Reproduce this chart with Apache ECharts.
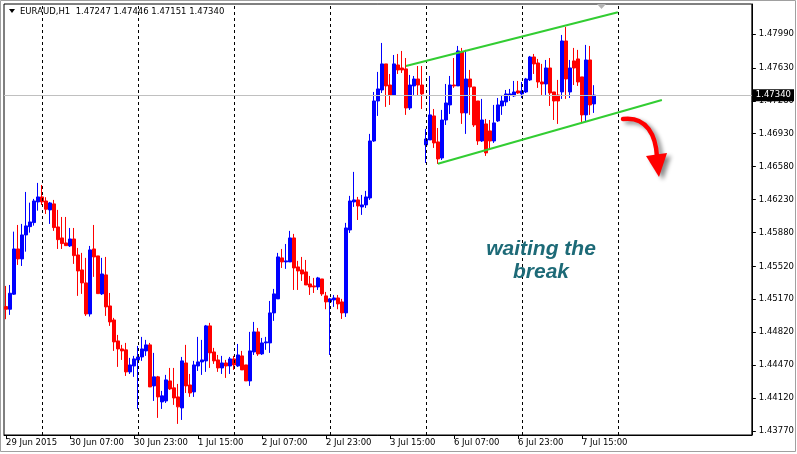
<!DOCTYPE html>
<html><head><meta charset="utf-8">
<script src="https://cdn.jsdelivr.net/npm/echarts@6/dist/echarts.min.js"></script>
<style>html,body{margin:0;padding:0;background:#fff;}#c{width:797px;height:454px;}</style>
</head><body><div id="c"></div>
<script>
// ---- data (EURAUD H1) ----
const opens = [1.45092,1.45064,1.45224,1.45705,1.45599,1.45854,1.45942,1.45985,1.46205,1.46258,
1.46215,1.46120,1.46184,1.45939,1.45822,1.45769,1.45737,1.45811,1.45641,1.45482,
1.45344,1.45014,1.45705,1.45631,1.45227,1.45429,1.45099,1.44950,1.44727,1.44642,
1.44632,1.44398,1.44461,1.44525,1.44557,1.44621,1.44685,1.44249,1.44345,1.44079,
1.44089,1.44302,1.44228,1.44132,1.44015,1.44493,1.44259,1.44185,1.44461,1.44504,
1.44515,1.44887,1.44610,1.44525,1.44440,1.44493,1.44461,1.44536,1.44461,1.44568,
1.44472,1.44302,1.44610,1.44823,1.44589,1.44706,1.44706,1.45025,1.45174,1.45610,
1.45567,1.45567,1.45822,1.45514,1.45482,1.45461,1.45333,1.45312,1.45301,1.45386,
1.45206,1.45142,1.45163,1.45184,1.45142,1.45025,1.45907,1.46205,1.46226,1.46152,
1.46173,1.46247,1.46853,1.47278,1.47395,1.47672,1.47448,1.47342,1.47661,1.47629,
1.47619,1.47204,1.47438,1.47512,1.47448,1.46811,1.46864,1.47119,1.46843,1.46672,
1.47076,1.47236,1.47448,1.47438,1.47799,1.47151,1.47512,1.47427,1.47278,1.46853,
1.47034,1.46960,1.46853,1.47066,1.47225,1.47268,1.47342,1.47332,1.47385,1.47353,
1.47374,1.47502,1.47746,1.47682,1.47480,1.47459,1.47629,1.47374,1.47342,1.47374,
1.47916,1.47374,1.47704,1.47725,1.47534,1.47130,1.47714,1.47247];
const highs = [1.45312,1.45322,1.45889,1.45960,1.45971,1.46311,1.46197,1.46237,1.46407,1.46385,
1.46255,1.46205,1.46226,1.46120,1.46045,1.46045,1.45928,1.45928,1.45716,1.45663,
1.45610,1.45737,1.45960,1.45631,1.45610,1.45620,1.45237,1.44972,1.44791,1.44685,
1.44706,1.44547,1.44568,1.44674,1.44770,1.44738,1.44706,1.44600,1.44355,1.44196,
1.44366,1.44440,1.44440,1.44270,1.44557,1.44685,1.44376,1.44515,1.44770,1.44738,
1.44897,1.44919,1.44653,1.44578,1.44568,1.44525,1.44557,1.44568,1.44695,1.44621,
1.44472,1.44823,1.44929,1.44865,1.44759,1.44770,1.45152,1.45280,1.45663,1.45705,
1.45758,1.45897,1.45865,1.45578,1.45620,1.45588,1.45418,1.45397,1.45408,1.45386,
1.45248,1.45184,1.45216,1.45216,1.45174,1.45982,1.46269,1.46524,1.46258,1.46279,
1.46322,1.46928,1.47374,1.47587,1.47895,1.47672,1.47565,1.47767,1.47778,1.47810,
1.47735,1.47555,1.47544,1.47650,1.47650,1.46981,1.47544,1.47193,1.46991,1.47183,
1.47459,1.47544,1.47735,1.47863,1.47842,1.47821,1.47608,1.47427,1.47278,1.47300,
1.47087,1.47076,1.47236,1.47310,1.47342,1.47395,1.47406,1.47491,1.47491,1.47480,
1.47523,1.47757,1.47778,1.47725,1.47672,1.47714,1.47735,1.47374,1.47502,1.47980,
1.48065,1.47714,1.47842,1.47821,1.47534,1.47874,1.47863,1.47446];
const lows = [1.44958,1.45004,1.45216,1.45535,1.45524,1.45676,1.45878,1.45953,1.46112,1.46173,
1.46077,1.45971,1.45897,1.45705,1.45705,1.45737,1.45726,1.45546,1.45206,1.45227,
1.44993,1.44986,1.45408,1.45227,1.45216,1.44993,1.44887,1.44621,1.44451,1.44525,
1.44355,1.44376,1.44345,1.44004,1.44515,1.44568,1.44238,1.44089,1.43909,1.44004,
1.44068,1.44206,1.44047,1.43845,1.43887,1.44174,1.44132,1.44132,1.44408,1.44366,
1.44398,1.44440,1.44483,1.44398,1.44376,1.44334,1.44376,1.44419,1.44451,1.44419,
1.44302,1.44249,1.44578,1.44568,1.44578,1.44632,1.44600,1.44940,1.45174,1.45503,
1.45493,1.45567,1.45269,1.45269,1.45365,1.45322,1.45216,1.45237,1.45269,1.45206,
1.45064,1.44578,1.45089,1.45064,1.44961,1.44982,1.45875,1.46152,1.46013,1.46067,
1.46141,1.46226,1.46843,1.47119,1.47363,1.47215,1.47236,1.47342,1.47565,1.47576,
1.47130,1.47183,1.47342,1.47332,1.47193,1.46619,1.46864,1.46779,1.46609,1.46651,
1.47023,1.47140,1.47417,1.47438,1.47034,1.46928,1.47130,1.47002,1.46811,1.46843,
1.46694,1.46758,1.46832,1.47055,1.47130,1.47225,1.47278,1.47321,1.47353,1.47310,
1.47363,1.47491,1.47565,1.47417,1.47342,1.47342,1.47225,1.47076,1.47034,1.47300,
1.47300,1.47310,1.47448,1.47438,1.47055,1.47055,1.47130,1.47151];
const closes = [1.45064,1.45234,1.45705,1.45599,1.45854,1.45950,1.45992,1.46215,1.46258,1.46205,
1.46127,1.46194,1.45932,1.45804,1.45762,1.45740,1.45811,1.45634,1.45471,1.45344,
1.45014,1.45695,1.45620,1.45230,1.45439,1.45089,1.44929,1.44717,1.44642,1.44621,
1.44398,1.44472,1.44536,1.44557,1.44642,1.44685,1.44238,1.44345,1.44132,1.44143,
1.44313,1.44217,1.44121,1.44026,1.44515,1.44249,1.44174,1.44472,1.44504,1.44525,
1.44887,1.44600,1.44515,1.44440,1.44493,1.44461,1.44536,1.44472,1.44578,1.44419,
1.44302,1.44621,1.44823,1.44589,1.44706,1.44717,1.45025,1.45227,1.45620,1.45567,
1.45578,1.45822,1.45503,1.45471,1.45439,1.45322,1.45301,1.45301,1.45397,1.45227,
1.45142,1.45174,1.45184,1.45121,1.45025,1.45928,1.46215,1.46226,1.46162,1.46173,
1.46258,1.46853,1.47278,1.47406,1.47672,1.47438,1.47342,1.47672,1.47608,1.47608,
1.47204,1.47448,1.47512,1.47448,1.47353,1.46874,1.47130,1.46832,1.46662,1.47076,
1.47257,1.47448,1.47438,1.47810,1.47151,1.47512,1.47427,1.47023,1.46853,1.47076,
1.46726,1.46853,1.47045,1.47236,1.47278,1.47353,1.47353,1.47374,1.47363,1.47385,
1.47512,1.47746,1.47672,1.47480,1.47459,1.47629,1.47363,1.47278,1.47278,1.47916,
1.47512,1.47629,1.47629,1.47480,1.47130,1.47714,1.47236,1.47340];

const tickIndex = [0,16,32,48,64,80,96,112,128,144];
const tickText = ['29 Jun 2015','30 Jun 07:00','30 Jun 23:00','1 Jul 15:00','2 Jul 07:00','2 Jul 23:00','3 Jul 15:00','6 Jul 07:00','6 Jul 23:00','7 Jul 15:00'];
const separatorIndex = [9,33,57,81,105,129,153];
const yTicks = [1.4377,1.4412,1.4447,1.4482,1.4517,1.4552,1.4588,1.4623,1.4658,1.4693,1.4728,1.4763,1.4799];
const lastPrice = 1.47340;
const upperChannel = [[100,1.47650],[153,1.48221]];
const lowerChannel = [[108,1.46611],[164,1.47289]];
const totalSlots = 187;

// hourly time slots (weekend skipped)
const categories = [];
(function(){
  let t = Date.UTC(2015,5,29,15,0);
  while (categories.length < totalSlots) {
    const d = new Date(t);
    const wd = d.getUTCDay();
    if (wd !== 0 && wd !== 6) {
      categories.push(d.toISOString().slice(0,16).replace('T',' '));
    }
    t += 3600000;
  }
})();

const candles = opens.map((o,i)=>[o, closes[i], lows[i], highs[i]]);

const font = 'DejaVu Sans';
const chart = echarts.init(document.getElementById('c'), null, {renderer:'canvas'});
const greenLine = {color:'#32cd32', width:2, type:'solid'};
const sepData = separatorIndex.map(i=>({xAxis: categories[i], lineStyle:{color:'#000', type:[3,3], width:1}, label:{show:false}}));

chart.setOption({
  animation:false,
  backgroundColor:'#ffffff',
  grid:{left:4, right:45, top:4, bottom:19, show:true, borderColor:'#000', borderWidth:1, backgroundColor:'#fff'},
  xAxis:{
    type:'category', data:categories, boundaryGap:true,
    axisLine:{show:true, lineStyle:{color:'#000'}},
    axisTick:{show:true, alignWithLabel:true, length:4, lineStyle:{color:'#000'},
      interval:(idx)=>tickIndex.indexOf(idx)>=0},
    axisLabel:{show:true, align:'left', margin:3, color:'#000', fontFamily:font, fontSize:8.5,
      interval:(idx)=>tickIndex.indexOf(idx)>=0,
      formatter:(v,idx)=>{const k=tickIndex.indexOf(idx); return k>=0?tickText[k]:'';}},
    splitLine:{show:false}
  },
  yAxis:{
    type:'value', position:'right', min:1.43727, max:1.48309, scale:true,
    axisLine:{show:true, lineStyle:{color:'#000'}},
    axisTick:{show:true, length:4, lineStyle:{color:'#000'}, customValues:yTicks},
    axisLabel:{show:true, margin:7, color:'#000', fontFamily:font, fontSize:8.5,
      customValues:yTicks, formatter:(v)=>v.toFixed(5)},
    splitLine:{show:false}
  },
  series:[{
    type:'line', data:[], silent:true, z:1,
    markLine:{
      symbol:['none','none'], silent:true, animation:false, precision:5,
      data:[
        {yAxis:lastPrice, lineStyle:{color:'#c0c0c0', type:'solid', width:1},
          label:{show:true, position:'end', distance:1, formatter:lastPrice.toFixed(5),
            backgroundColor:'#000', color:'#fff', padding:[2,3,1,3], fontFamily:font, fontSize:8.5}}
      ]
    }
  },{
    type:'candlestick', data:candles, barWidth:3, z:3,
    itemStyle:{color:'#0000ff', color0:'#ff0000', borderColor:'#0000ff', borderColor0:'#ff0000', borderWidth:1},
    markLine:{
      symbol:['none','none'], silent:true, animation:false, precision:5,
      data:[
        ...sepData,
        [{coord:[categories[upperChannel[0][0]], upperChannel[0][1]], lineStyle:greenLine, label:{show:false}},
         {coord:[categories[upperChannel[1][0]], upperChannel[1][1]]}],
        [{coord:[categories[lowerChannel[0][0]], lowerChannel[0][1]], lineStyle:greenLine, label:{show:false}},
         {coord:[categories[lowerChannel[1][0]], lowerChannel[1][1]]}]
      ]
    }
  }],
  graphic:[
    {type:'rect', shape:{x:0.5,y:0.5,width:795,height:451}, style:{fill:null, stroke:'#a0a0a0', lineWidth:1}, z:100},
    {type:'polygon', shape:{points:[[9,9],[15,9],[12,13]]}, style:{fill:'#000'}, z:100},
    {type:'text', x:20, y:12, style:{text:'EURAUD,H1  1.47247 1.47446 1.47151 1.47340', fill:'#000', font:'8.5px DejaVu Sans', textVerticalAlign:'middle'}, z:100},
    {type:'polygon', shape:{points:[[597,4],[606,4],[601.5,9]]}, style:{fill:'#b4b4b4'}, z:100},
    {type:'text', x:541, y:249, style:{text:'waiting the', fill:'#1d6a77', font:'italic bold 21px "Liberation Sans"', textAlign:'center', textVerticalAlign:'middle'}, z:100},
    {type:'text', x:541, y:272, style:{text:'break', fill:'#1d6a77', font:'italic bold 21px "Liberation Sans"', textAlign:'center', textVerticalAlign:'middle'}, z:100},
    {type:'bezierCurve', shape:{x1:623,y1:119,cpx1:647,cpy1:116,cpx2:656,cpy2:136,x2:657,y2:157},
      style:{stroke:'#ff0000', lineWidth:4.5, fill:null, lineCap:'round', shadowBlur:4, shadowColor:'rgba(0,0,0,0.45)', shadowOffsetX:4, shadowOffsetY:3}, z:100},
    {type:'polygon', shape:{points:[[646,156],[667,153],[659,177]]},
      style:{fill:'#ff0000', shadowBlur:4, shadowColor:'rgba(0,0,0,0.45)', shadowOffsetX:4, shadowOffsetY:3}, z:100}
  ]
});
</script></body></html>
